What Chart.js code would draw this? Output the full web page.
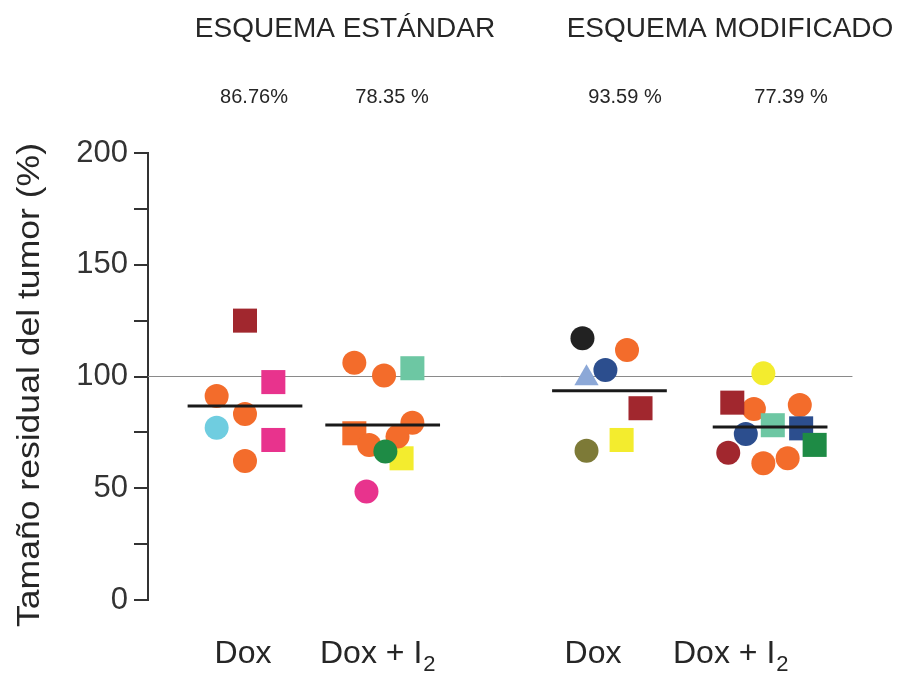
<!DOCTYPE html>
<html>
<head>
<meta charset="utf-8">
<script src="https://cdn.jsdelivr.net/npm/chart.js@4"></script>
<style>
  html, body { margin: 0; padding: 0; background: #fff; }
  #wrap { width: 898px; height: 674px; position: relative; }
</style>
</head>
<body>
<div id="wrap"><canvas id="c"></canvas></div>
<script>
// ---------- DATA ----------
const groupNames = ["Dox", "Dox + I2", "Dox", "Dox + I2"];
const schemeNames = ["ESQUEMA ESTÁNDAR", "ESQUEMA MODIFICADO"];
const meanValues = [86.76, 78.35, 93.59, 77.39];
const meanLabels = ["86.76%", "78.35 %", "93.59 %", "77.39 %"];
const yTickValues = [0, 50, 100, 150, 200];
const referenceValue = 100;
const yTitle = "Tamaño residual del tumor (%)";

// individual animals (tumour size %)
const g1Values = [125.0, 91.3, 83.2, 77.1, 62.2, 97.5, 71.6];
const g2Values = [106.2, 100.4, 103.7, 74.6, 63.4, 79.3, 69.4, 73.1, 66.4, 48.5];
const g3Values = [99.2, 117.1, 111.9, 102.9, 85.8, 71.6, 66.8];
const g4Values = [101.4, 85.5, 87.2, 88.3, 78.2, 65.9, 74.3, 61.2, 63.4, 76.8, 69.4];

// ---------- LAYOUT / STYLE ----------
const groupCenters = [1, 2, 3.6, 4.65];
const g1Jitter = [0, -0.21, 0, -0.21, 0, 0.21, 0.21];
const g2Jitter = [-0.19, 0.03, 0.24, -0.19, 0.16, 0.24, -0.08, 0.13, 0.04, -0.10];
const g3Jitter = [-0.07, -0.10, 0.23, 0.07, 0.33, 0.19, -0.07];
const g4Jitter = [0.19, 0.12, 0.46, -0.04, 0.26, -0.07, 0.06, 0.19, 0.37, 0.47, 0.57];
const meanLineShift = [0, 0.02, 0.10, 0.24];
const meanHalfWidth = 0.425;

const C = {
  orange: '#F36C2B', darkred: '#A1272E', magenta: '#E8338D', cyan: '#6FCDE0',
  teal: '#6DC7A3', green: '#1E8B45', yellow: '#F3EC2E', black: '#222222',
  navy: '#2C4E8E', lightblue: '#8CA8D7', olive: '#7D7A37'
};
const g1Style = [['rect', C.darkred], ['circle', C.orange], ['circle', C.orange], ['circle', C.cyan], ['circle', C.orange], ['rect', C.magenta], ['rect', C.magenta]];
const g2Style = [['circle', C.orange], ['circle', C.orange], ['rect', C.teal], ['rect', C.orange], ['rect', C.yellow], ['circle', C.orange], ['circle', C.orange], ['circle', C.orange], ['circle', C.green], ['circle', C.magenta]];
const g3Style = [['triangle', C.lightblue], ['circle', C.black], ['circle', C.orange], ['circle', C.navy], ['rect', C.darkred], ['rect', C.yellow], ['circle', C.olive]];
const g4Style = [['circle', C.yellow], ['circle', C.orange], ['circle', C.orange], ['rect', C.darkred], ['rect', C.teal], ['circle', C.darkred], ['circle', C.navy], ['circle', C.orange], ['circle', C.orange], ['rect', C.navy], ['rect', C.green]];

const allValues = [g1Values, g2Values, g3Values, g4Values];
const allJitter = [g1Jitter, g2Jitter, g3Jitter, g4Jitter];
const allStyle = [g1Style, g2Style, g3Style, g4Style];

const X_MIN = 0.2815, X_MAX = 5.556;
const FONT = '"Liberation Sans", Arial, sans-serif';
const radiusFor = s => s === 'rect' ? 17 : (s === 'triangle' ? 14 : 12);

const datasets = [];
// mean lines (on top)
meanValues.forEach((m, i) => {
  const c = groupCenters[i] + meanLineShift[i];
  datasets.push({
    type: 'line', data: [{x: c - meanHalfWidth, y: m}, {x: c + meanHalfWidth, y: m}],
    borderColor: '#1a1a1a', borderWidth: 3, pointRadius: 0, order: 0, clip: false
  });
});
// point groups
allValues.forEach((vals, i) => {
  datasets.push({
    type: 'scatter',
    data: vals.map((v, k) => ({x: groupCenters[i] + allJitter[i][k], y: v})),
    pointStyle: allStyle[i].map(s => s[0]),
    pointRadius: allStyle[i].map(s => radiusFor(s[0])),
    pointHoverRadius: allStyle[i].map(s => radiusFor(s[0])),
    backgroundColor: allStyle[i].map(s => s[1]),
    borderColor: allStyle[i].map(s => s[1]),
    borderWidth: 0, order: 1, clip: false
  });
});
// reference line at 100
datasets.push({
  type: 'line', data: [{x: X_MIN, y: referenceValue}, {x: 5.50, y: referenceValue}],
  borderColor: '#8a8a8a', borderWidth: 1, pointRadius: 0, order: 2, clip: false
});

const textPlugin = {
  id: 'texts',
  afterDraw(chart) {
    const ctx = chart.ctx;
    ctx.save();
    ctx.fillStyle = '#262626';
    ctx.textBaseline = 'alphabetic';
    // scheme headers
    ctx.font = '28px ' + FONT;
    ctx.textAlign = 'center';
    ctx.fillText(schemeNames[0], 345, 37);
    ctx.fillText(schemeNames[1], 730, 37);
    // mean percentages
    ctx.font = '20px ' + FONT;
    const pctX = [254, 392, 625, 791];
    meanLabels.forEach((t, i) => ctx.fillText(t, pctX[i], 103));
    // group labels (with subscript)
    const labX = [243, 320, 593, 673];
    groupNames.forEach((name, i) => {
      if (name.endsWith('I2')) {
        const main = name.slice(0, -1);
        ctx.textAlign = 'left';
        ctx.font = '32px ' + FONT;
        ctx.fillText(main, labX[i], 663);
        const w = ctx.measureText(main).width;
        ctx.font = '22px ' + FONT;
        ctx.fillText('2', labX[i] + w + 1, 671);
      } else {
        ctx.textAlign = 'center';
        ctx.font = '32px ' + FONT;
        ctx.fillText(name, labX[i], 663);
      }
    });
    // y title
    ctx.translate(39, 385);
    ctx.rotate(-Math.PI / 2);
    ctx.textAlign = 'center';
    ctx.font = '32px ' + FONT;
    const tw = ctx.measureText(yTitle).width;
    ctx.scale(484 / tw, 1);
    ctx.fillText(yTitle, 0, 0);
    ctx.restore();
  }
};

new Chart(document.getElementById('c'), {
  type: 'scatter',
  data: { datasets },
  options: {
    responsive: true, maintainAspectRatio: false, animation: false,
    layout: { padding: { top: 153, right: 38, bottom: 74, left: 0 } },
    plugins: { legend: { display: false }, tooltip: { enabled: false } },
    scales: {
      x: { type: 'linear', display: false, min: X_MIN, max: X_MAX },
      y: {
        type: 'linear', min: 0, max: 200,
        afterFit: s => { s.width = 148; },
        ticks: {
          stepSize: 25, padding: 6, color: '#333', font: { family: FONT, size: 31 },
          callback: v => yTickValues.includes(v) ? String(v) : ''
        },
        grid: { drawOnChartArea: false, drawTicks: true, tickLength: 14, color: '#333', lineWidth: 2 },
        border: { display: true, color: '#333', width: 2 }
      }
    }
  },
  plugins: [textPlugin]
});
</script>
</body>
</html>
